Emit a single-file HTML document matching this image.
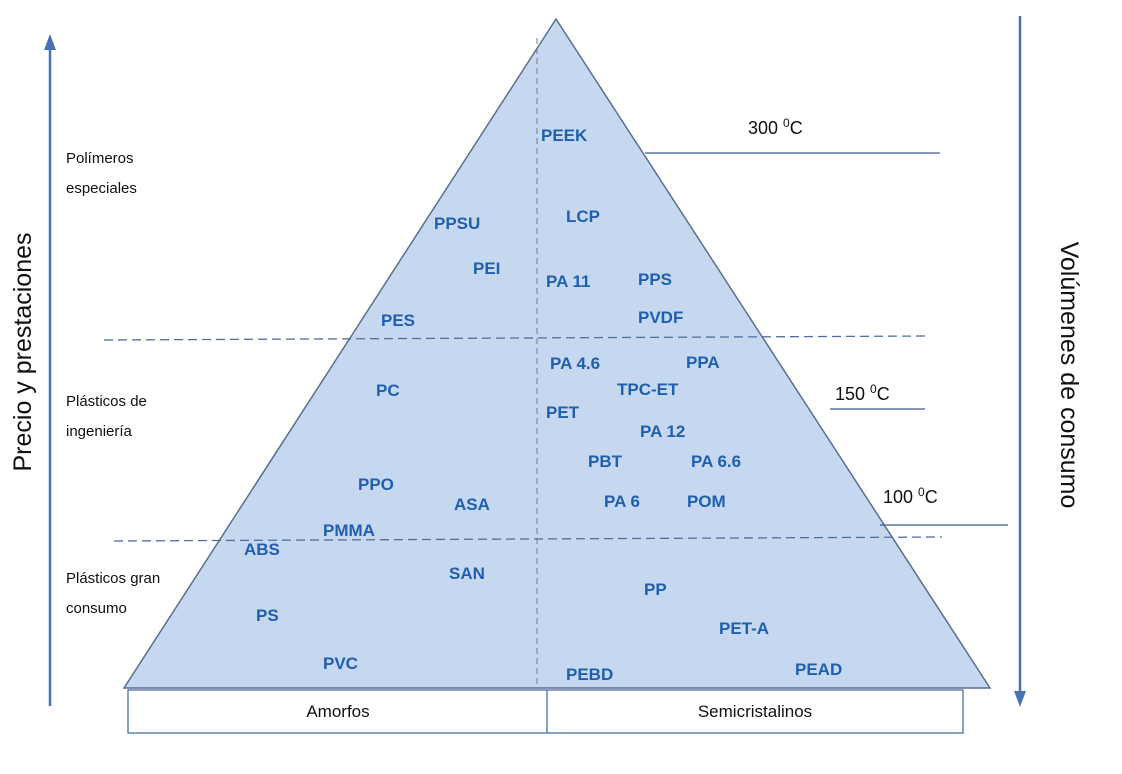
<!DOCTYPE html>
<html><head><meta charset="utf-8"><style>
html,body{margin:0;padding:0;background:#fff;}
svg{display:block;}
.b{font-family:"Liberation Sans",sans-serif;font-weight:bold;font-size:17px;fill:#1f5fae;}
.t{font-family:"Liberation Sans",sans-serif;font-size:15px;fill:#111;}
</style></head><body>
<svg width="1122" height="774" viewBox="0 0 1122 774" xmlns="http://www.w3.org/2000/svg">
<polygon points="556,19 124,688 990,688" fill="#c6d8ef" stroke="#5b6f8c" stroke-width="1.5"/>
<line x1="537" y1="38" x2="537" y2="688" stroke="#6a7a90" stroke-width="1" stroke-dasharray="6,4"/>
<line x1="104" y1="340" x2="930" y2="336" stroke="#4f6f9f" stroke-width="1.3" stroke-dasharray="9,5"/>
<line x1="114" y1="541" x2="942" y2="537" stroke="#4f6f9f" stroke-width="1.3" stroke-dasharray="9,5"/>
<line x1="645" y1="153" x2="940" y2="153" stroke="#3c5a8c" stroke-width="1.3"/>
<line x1="830" y1="409" x2="925" y2="409" stroke="#3c5a8c" stroke-width="1.3"/>
<line x1="880" y1="525" x2="1008" y2="525" stroke="#3c5a8c" stroke-width="1.3"/>
<rect x="128" y="690" width="835" height="43" fill="#fff" stroke="#4f6f9f" stroke-width="1.3"/>
<line x1="547" y1="690" x2="547" y2="733" stroke="#4f6f9f" stroke-width="1.3"/>
<text class="t" x="338" y="717" text-anchor="middle" style="font-size:17px">Amorfos</text>
<text class="t" x="755" y="717" text-anchor="middle" style="font-size:17px">Semicristalinos</text>
<line x1="50" y1="706" x2="50" y2="44" stroke="#4a72b0" stroke-width="2.5"/>
<polygon points="50,34 44,50 56,50" fill="#4a72b0"/>
<line x1="1020" y1="16" x2="1020" y2="696" stroke="#4a72b0" stroke-width="2.5"/>
<polygon points="1020,707 1014,691 1026,691" fill="#4a72b0"/>
<text x="31" y="352" transform="rotate(-90 31 352)" text-anchor="middle" font-family="Liberation Sans,sans-serif" font-size="25" fill="#111">Precio y prestaciones</text>
<text x="1061" y="375" transform="rotate(90 1061 375)" text-anchor="middle" font-family="Liberation Sans,sans-serif" font-size="25" fill="#111">Volúmenes de consumo</text>
<text class="t" x="66" y="163">Polímeros</text>
<text class="t" x="66" y="193">especiales</text>
<text class="t" x="66" y="406">Plásticos de</text>
<text class="t" x="66" y="436">ingeniería</text>
<text class="t" x="66" y="583">Plásticos gran</text>
<text class="t" x="66" y="613">consumo</text>
<text class="t" x="748" y="134" style="font-size:18px">300 <tspan style="font-size:12px" dy="-7">0</tspan><tspan dy="7">C</tspan></text>
<text class="t" x="835" y="400" style="font-size:18px">150 <tspan style="font-size:12px" dy="-7">0</tspan><tspan dy="7">C</tspan></text>
<text class="t" x="883" y="503" style="font-size:18px">100 <tspan style="font-size:12px" dy="-7">0</tspan><tspan dy="7">C</tspan></text>
<text class="b" x="541" y="141">PEEK</text>
<text class="b" x="566" y="222">LCP</text>
<text class="b" x="434" y="229">PPSU</text>
<text class="b" x="473" y="274">PEI</text>
<text class="b" x="546" y="287">PA 11</text>
<text class="b" x="638" y="285">PPS</text>
<text class="b" x="381" y="326">PES</text>
<text class="b" x="638" y="323">PVDF</text>
<text class="b" x="550" y="369">PA 4.6</text>
<text class="b" x="686" y="368">PPA</text>
<text class="b" x="617" y="395">TPC-ET</text>
<text class="b" x="376" y="396">PC</text>
<text class="b" x="546" y="418">PET</text>
<text class="b" x="640" y="437">PA 12</text>
<text class="b" x="588" y="467">PBT</text>
<text class="b" x="691" y="467">PA 6.6</text>
<text class="b" x="358" y="490">PPO</text>
<text class="b" x="454" y="510">ASA</text>
<text class="b" x="604" y="507">PA 6</text>
<text class="b" x="687" y="507">POM</text>
<text class="b" x="323" y="536">PMMA</text>
<text class="b" x="244" y="555">ABS</text>
<text class="b" x="449" y="579">SAN</text>
<text class="b" x="644" y="595">PP</text>
<text class="b" x="256" y="621">PS</text>
<text class="b" x="719" y="634">PET-A</text>
<text class="b" x="323" y="669">PVC</text>
<text class="b" x="795" y="675">PEAD</text>
<text class="b" x="566" y="680">PEBD</text>
</svg>
</body></html>
